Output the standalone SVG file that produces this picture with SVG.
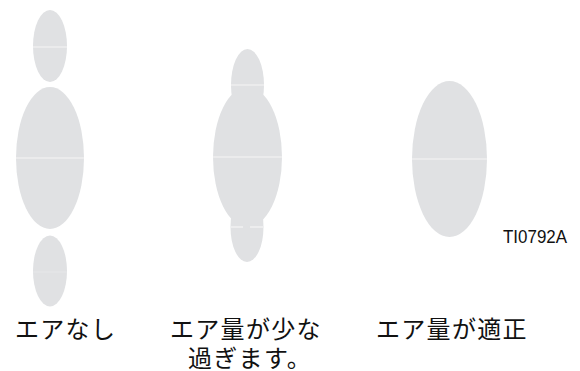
<svg xmlns="http://www.w3.org/2000/svg" width="580" height="371" viewBox="0 0 580 371">
<style>
.sh{fill:#e0e1e3}
.dv{stroke:#f6f6f6;stroke-width:1.2;fill:none}
.lb{font-family:"Noto Sans CJK JP","Noto Sans CJK SC",sans-serif;font-size:24px;letter-spacing:1.3px;fill:#111}
.code{font-family:"Liberation Sans",sans-serif;font-size:19px;fill:#111}
</style>
<rect width="580" height="371" fill="#fff"/>
<g id="no-air">
<ellipse class="sh" cx="50" cy="46" rx="17" ry="36"/>
<line class="dv" x1="33" y1="47" x2="67" y2="47"/>
<ellipse class="sh" cx="50" cy="158" rx="34" ry="71"/>
<line class="dv" x1="16" y1="158" x2="84" y2="158"/>
<ellipse class="sh" cx="50" cy="271" rx="17" ry="35.5"/>
<line stroke="#e6e7e9" stroke-width="1" x1="33" y1="272" x2="67" y2="272"/>
</g>
<g id="low-air">
<ellipse class="sh" cx="247.5" cy="85" rx="16.5" ry="36"/>
<ellipse class="sh" cx="247" cy="227" rx="16.5" ry="35"/>
<ellipse class="sh" cx="247.5" cy="157" rx="34.5" ry="70"/>
<line class="dv" x1="231" y1="85" x2="264" y2="85"/>
<line class="dv" x1="213" y1="157" x2="282" y2="157"/>
<line class="dv" x1="231" y1="227" x2="243" y2="227"/>
<line class="dv" x1="250" y1="227" x2="263" y2="227"/>
</g>
<g id="proper-air">
<ellipse class="sh" cx="449.5" cy="159" rx="37.5" ry="78"/>
<line class="dv" x1="412" y1="159" x2="487" y2="159"/>
</g>
<g id="labels">
<text class="code" x="503" y="243" textLength="64" lengthAdjust="spacingAndGlyphs">TI0792A</text>
<text class="lb" x="15" y="338">エアなし</text>
<text class="lb" x="170" y="338">エア量が少な</text>
<text class="lb" x="188" y="367">過ぎます。</text>
<text class="lb" x="376" y="338">エア量が適正</text>
</g>
</svg>
